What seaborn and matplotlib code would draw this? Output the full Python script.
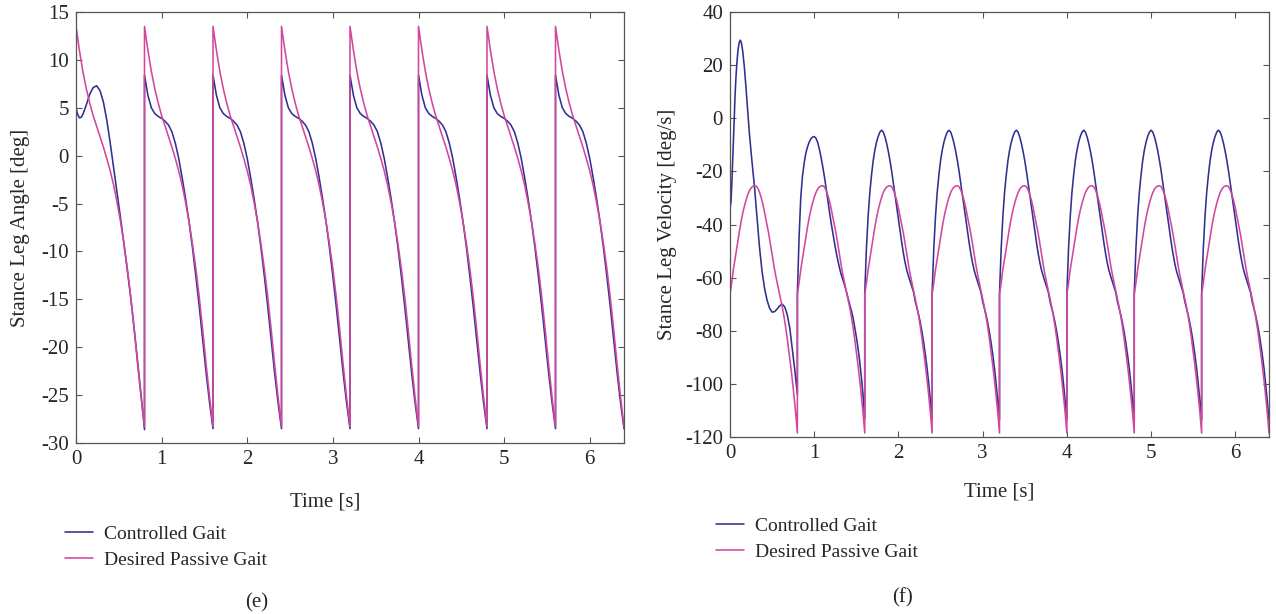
import numpy as np
import pandas as pd
import matplotlib
matplotlib.use("Agg")
import matplotlib.pyplot as plt
import seaborn as sns

# ---------------- data ----------------
period = 0.8
n_cycles = 8
series_names = ["Controlled Gait", "Desired Passive Gait"]

# Stance leg angle [deg], phase within one 0.8 s step
ang_phase = [0.00, 0.04, 0.08, 0.12, 0.16, 0.20, 0.24, 0.28, 0.32, 0.36, 0.40,
             0.44, 0.48, 0.52, 0.56, 0.60, 0.64, 0.68, 0.72, 0.76, 0.80]
ang_desired = [13.5, 11.0, 8.8, 7.0, 5.5, 4.2, 3.1, 2.0, 0.9, -0.3, -1.6,
               -3.1, -4.9, -6.9, -9.2, -11.8, -14.8, -18.2, -21.8, -25.2, -28.3]
ang_ctrl_steady = [8.4, 6.3, 5.0, 4.4, 4.1, 3.9, 3.6, 3.2, 2.5, 1.3, -0.3,
                   -2.3, -4.5, -6.9, -9.6, -12.6, -15.8, -19.3, -22.7, -25.8, -28.5]
ang_first_phase = [0.00, 0.02, 0.04, 0.06, 0.08, 0.12, 0.16, 0.20, 0.24, 0.28, 0.32,
                   0.36, 0.40, 0.44, 0.48, 0.52, 0.56, 0.60, 0.64, 0.68, 0.72, 0.76, 0.80]
ang_ctrl_first = [5.0, 4.3, 3.95, 4.0, 4.3, 5.3, 6.4, 7.1, 7.3, 6.8, 5.6,
                  3.7, 1.3, -1.3, -3.9, -6.5, -9.2, -12.0, -14.9, -18.1, -21.5, -25.0, -28.6]

# Stance leg velocity [deg/s]
vel_phase = [0.00, 0.02, 0.04, 0.06, 0.08, 0.10, 0.12, 0.14, 0.16, 0.18, 0.20,
             0.22, 0.24, 0.26, 0.28, 0.30, 0.32, 0.34, 0.36, 0.38, 0.40,
             0.42, 0.44, 0.46, 0.48, 0.50, 0.52, 0.54, 0.56, 0.58, 0.60,
             0.62, 0.64, 0.66, 0.68, 0.70, 0.72, 0.74, 0.76, 0.78, 0.80]
vel_desired = [-66.3, -62, -57, -53, -49, -45, -41, -37.5, -34.5, -32, -29.8,
               -28, -26.7, -25.9, -25.5, -25.4, -25.8, -27, -28.8, -31, -33.8,
               -37, -40.2, -43.5, -47.3, -51.3, -55.3, -58.8, -62, -65, -68,
               -71, -74.5, -78.5, -83, -88, -93, -98.5, -104.5, -111, -118.5]
vel_ctrl_steady = [-66, -49, -37, -28, -21.5, -16, -12, -9, -6.8, -5.2, -4.5,
                   -5.2, -7, -9.5, -12.5, -16, -20, -24.5, -29, -33.5, -38,
                   -42.5, -47, -51, -54.5, -57.3, -59.5, -61.5, -63.5, -65.5, -69,
                   -71.5, -74, -77, -80.5, -84.5, -89, -94, -100, -106.5, -113.5]
vel_ctrl_second = [-66, -45, -30, -22, -17, -13.2, -10.8, -9.0, -7.8, -7.1, -6.9,
                   -7.5, -9.0, -11.5, -14.5, -18, -21.8, -26, -30.5, -35, -39.2,
                   -43, -46.8, -50.3, -53.5, -56.3, -58.8, -60.8, -62.8, -65, -67.5,
                   -70, -72.3, -75, -78.5, -82.3, -86.5, -91.5, -97.5, -104.5, -113]
vel_first_phase = [0.00, 0.004, 0.012, 0.02, 0.03, 0.04, 0.05, 0.06, 0.07, 0.08, 0.09,
                   0.10, 0.11, 0.122, 0.135, 0.15, 0.17, 0.19, 0.21, 0.23, 0.26,
                   0.29, 0.32, 0.35, 0.38, 0.41, 0.44, 0.47, 0.50, 0.53, 0.56,
                   0.59, 0.62, 0.65, 0.68, 0.71, 0.74, 0.77, 0.80]
vel_ctrl_first = [-9.5, -33, -31, -26, -18, -9, 0, 8.5, 15, 20, 24,
                  26.8, 28.5, 29.4, 28.5, 25.5, 19.4, 11.5, 3, -5.6, -16,
                  -25.6, -37, -48.5, -57.5, -64, -68.5, -71.5, -73, -72.8, -71.8,
                  -70.6, -70, -71, -74, -79, -86.9, -95, -104]

x_ticks = [0, 1, 2, 3, 4, 5, 6]
ang_ticks = [-30, -25, -20, -15, -10, -5, 0, 5, 10, 15]
vel_ticks = [-120, -100, -80, -60, -40, -20, 0, 20, 40]


def build(cycles, name):
    ts, vs = [], []
    for k, (ph, vals) in enumerate(cycles):
        ts.extend(k * period + np.asarray(ph, dtype=float))
        vs.extend(vals)
    return pd.DataFrame({"t": ts, "v": vs, "series": name})


ang_ctrl_cycles = [(ang_first_phase, ang_ctrl_first)] + \
    [(ang_phase, ang_ctrl_steady)] * (n_cycles - 1)
ang_des_cycles = [(ang_phase, ang_desired)] * n_cycles
vel_ctrl_cycles = [(vel_first_phase, vel_ctrl_first), (vel_phase, vel_ctrl_second)] + \
    [(vel_phase, vel_ctrl_steady)] * (n_cycles - 2)
vel_des_cycles = [(vel_phase, vel_desired)] * n_cycles

df_ang = pd.concat([build(ang_ctrl_cycles, series_names[0]),
                    build(ang_des_cycles, series_names[1])], ignore_index=True)
df_vel = pd.concat([build(vel_ctrl_cycles, series_names[0]),
                    build(vel_des_cycles, series_names[1])], ignore_index=True)

# ---------------- styling ----------------
sns.set_style("ticks")
plt.rcParams["font.family"] = ["Liberation Serif", "DejaVu Serif"]
plt.rcParams["axes.unicode_minus"] = False
palette = {series_names[0]: "#2E3192", series_names[1]: "#D2479E"}
spine_col = "#555555"
fs = 15
fs_leg = 14

fig = plt.figure(figsize=(12.76, 6.14), dpi=100)
W, H = 1276.0, 614.0
axL = fig.add_axes([76 / W, (H - 443) / H, 548 / W, 431 / H])
axR = fig.add_axes([730 / W, (H - 437) / H, 539 / W, 425 / H])

for ax, df, yt, ylab in [(axL, df_ang, ang_ticks, "Stance Leg Angle [deg]"),
                         (axR, df_vel, vel_ticks, "Stance Leg Velocity [deg/s]")]:
    sns.lineplot(data=df, x="t", y="v", hue="series", hue_order=series_names,
                 palette=palette, estimator=None, sort=False, linewidth=1.15,
                 ax=ax, legend=True)
    ax.set_xlim(0, 6.4)
    ax.set_ylim(yt[0], yt[-1])
    ax.set_xticks(x_ticks)
    ax.set_yticks(yt)
    ax.tick_params(direction="in", length=4, width=0.8, color=spine_col,
                   top=True, right=True, labelsize=fs, pad=5)
    for s in ax.spines.values():
        s.set_visible(True)
        s.set_color(spine_col)
        s.set_linewidth(0.9)
    ax.set_xlabel("Time [s]", fontsize=fs)
    ax.set_ylabel(ylab, fontsize=fs)

axL.yaxis.set_label_coords((30 - 76) / 548, 0.5)
axR.yaxis.set_label_coords((677 - 730) / 539, 0.5)
axL.xaxis.set_label_coords((325 - 76) / 548, (443 - 492) / 431)
axR.xaxis.set_label_coords(0.5, (437 - 482) / 425)

for ax, (lx, ly) in [(axL, (65, 525)), (axR, (716, 517))]:
    handles, labels = ax.get_legend_handles_labels()
    ax.legend(handles, labels, loc="upper left",
              bbox_to_anchor=(lx / W, (H - ly) / H), bbox_transform=fig.transFigure,
              frameon=False, fontsize=fs_leg, handlelength=1.45, handletextpad=0.57,
              labelspacing=0.45, borderpad=0, borderaxespad=0)

fig.text(257 / W, (H - 603) / H, "(e)", ha="center", va="center", fontsize=fs)
fig.text(903 / W, (H - 598) / H, "(f)", ha="center", va="center", fontsize=fs)

fig.savefig("out.png", dpi=100)
